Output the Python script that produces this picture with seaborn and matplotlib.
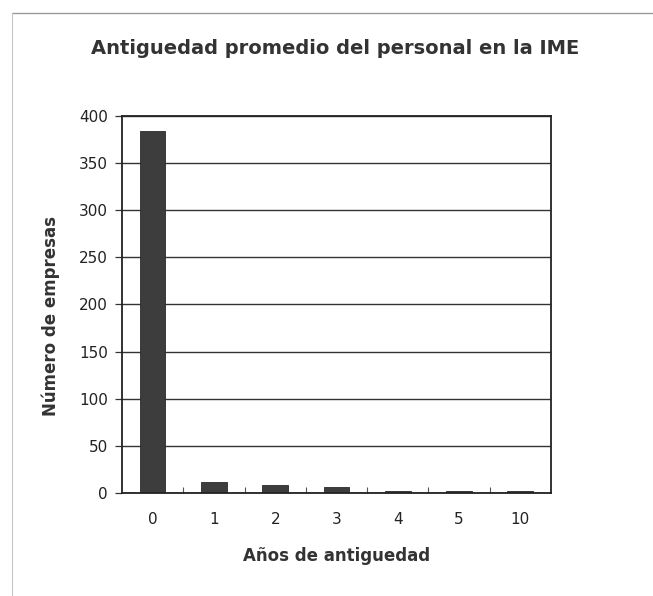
import matplotlib
matplotlib.use("Agg")
import matplotlib.pyplot as plt
from matplotlib.lines import Line2D
import seaborn as sns
import pandas as pd

# Years of seniority and number of companies in each group
anios = ["0", "1", "2", "3", "4", "5", "10"]
empresas = [384, 12, 8.5, 6.5, 2.5, 2.5, 2.5]

titulo = "Antiguedad promedio del personal en la IME"
etiqueta_x = "Años de antiguedad"
etiqueta_y = "Número de empresas"

df = pd.DataFrame({"anios": anios, "empresas": empresas})

sns.set_theme(style="white")
plt.rcParams["font.family"] = ["DejaVu Sans"]

fig = plt.figure(figsize=(6.53, 5.96), dpi=100)
ax = fig.add_axes([0.1868, 0.1728, 0.6570, 0.6326])

sns.barplot(data=df, x="anios", y="empresas", order=anios, color="#3d3d3d",
            saturation=1, width=0.42, ax=ax, edgecolor="#2a2a2a", linewidth=0.6)

ax.set_ylim(0, 400)
ax.set_yticks(range(0, 401, 50))
ax.set_xlim(-0.5, len(anios) - 0.5)
ax.yaxis.grid(True, color="#333333", linewidth=1.0)
ax.set_axisbelow(True)

for s in ax.spines.values():
    s.set_visible(True)
    s.set_color("#222222")
    s.set_linewidth(1.3)

# category separators on the x axis, short outward ticks on y
ax.set_xticks(range(len(anios)))
ax.set_xticklabels(anios)
ax.set_xticks([i + 0.5 for i in range(len(anios) - 1)], minor=True)
ax.tick_params(axis="x", which="major", length=0, pad=14, labelsize=11, colors="#222222")
ax.tick_params(axis="x", which="minor", direction="in", length=4, width=0.8, color="#555555", bottom=True)
ax.tick_params(axis="y", which="major", direction="out", length=5, width=0.9, color="#333333",
               left=True, pad=5, labelsize=11, labelcolor="#222222")

ax.set_xlabel(etiqueta_x, fontsize=12, fontweight="bold", color="#333333", labelpad=14)
ax.set_ylabel(etiqueta_y, fontsize=12, fontweight="bold", color="#333333", labelpad=8)
ax.yaxis.set_label_coords(-0.145, 0.47)

fig.text(0.513, 0.919, titulo, ha="center", va="center", fontsize=14,
         fontweight="bold", color="#333333")

# outer frame of the page
fig.add_artist(Line2D([12 / 653, 1.0], [1 - 13 / 596, 1 - 13 / 596], transform=fig.transFigure,
                      color="#9a9a9a", linewidth=1.0))
fig.add_artist(Line2D([12 / 653, 12 / 653], [0.0, 1 - 13 / 596], transform=fig.transFigure,
                      color="#c8c8c8", linewidth=0.8))

fig.savefig("out.png", dpi=100)
